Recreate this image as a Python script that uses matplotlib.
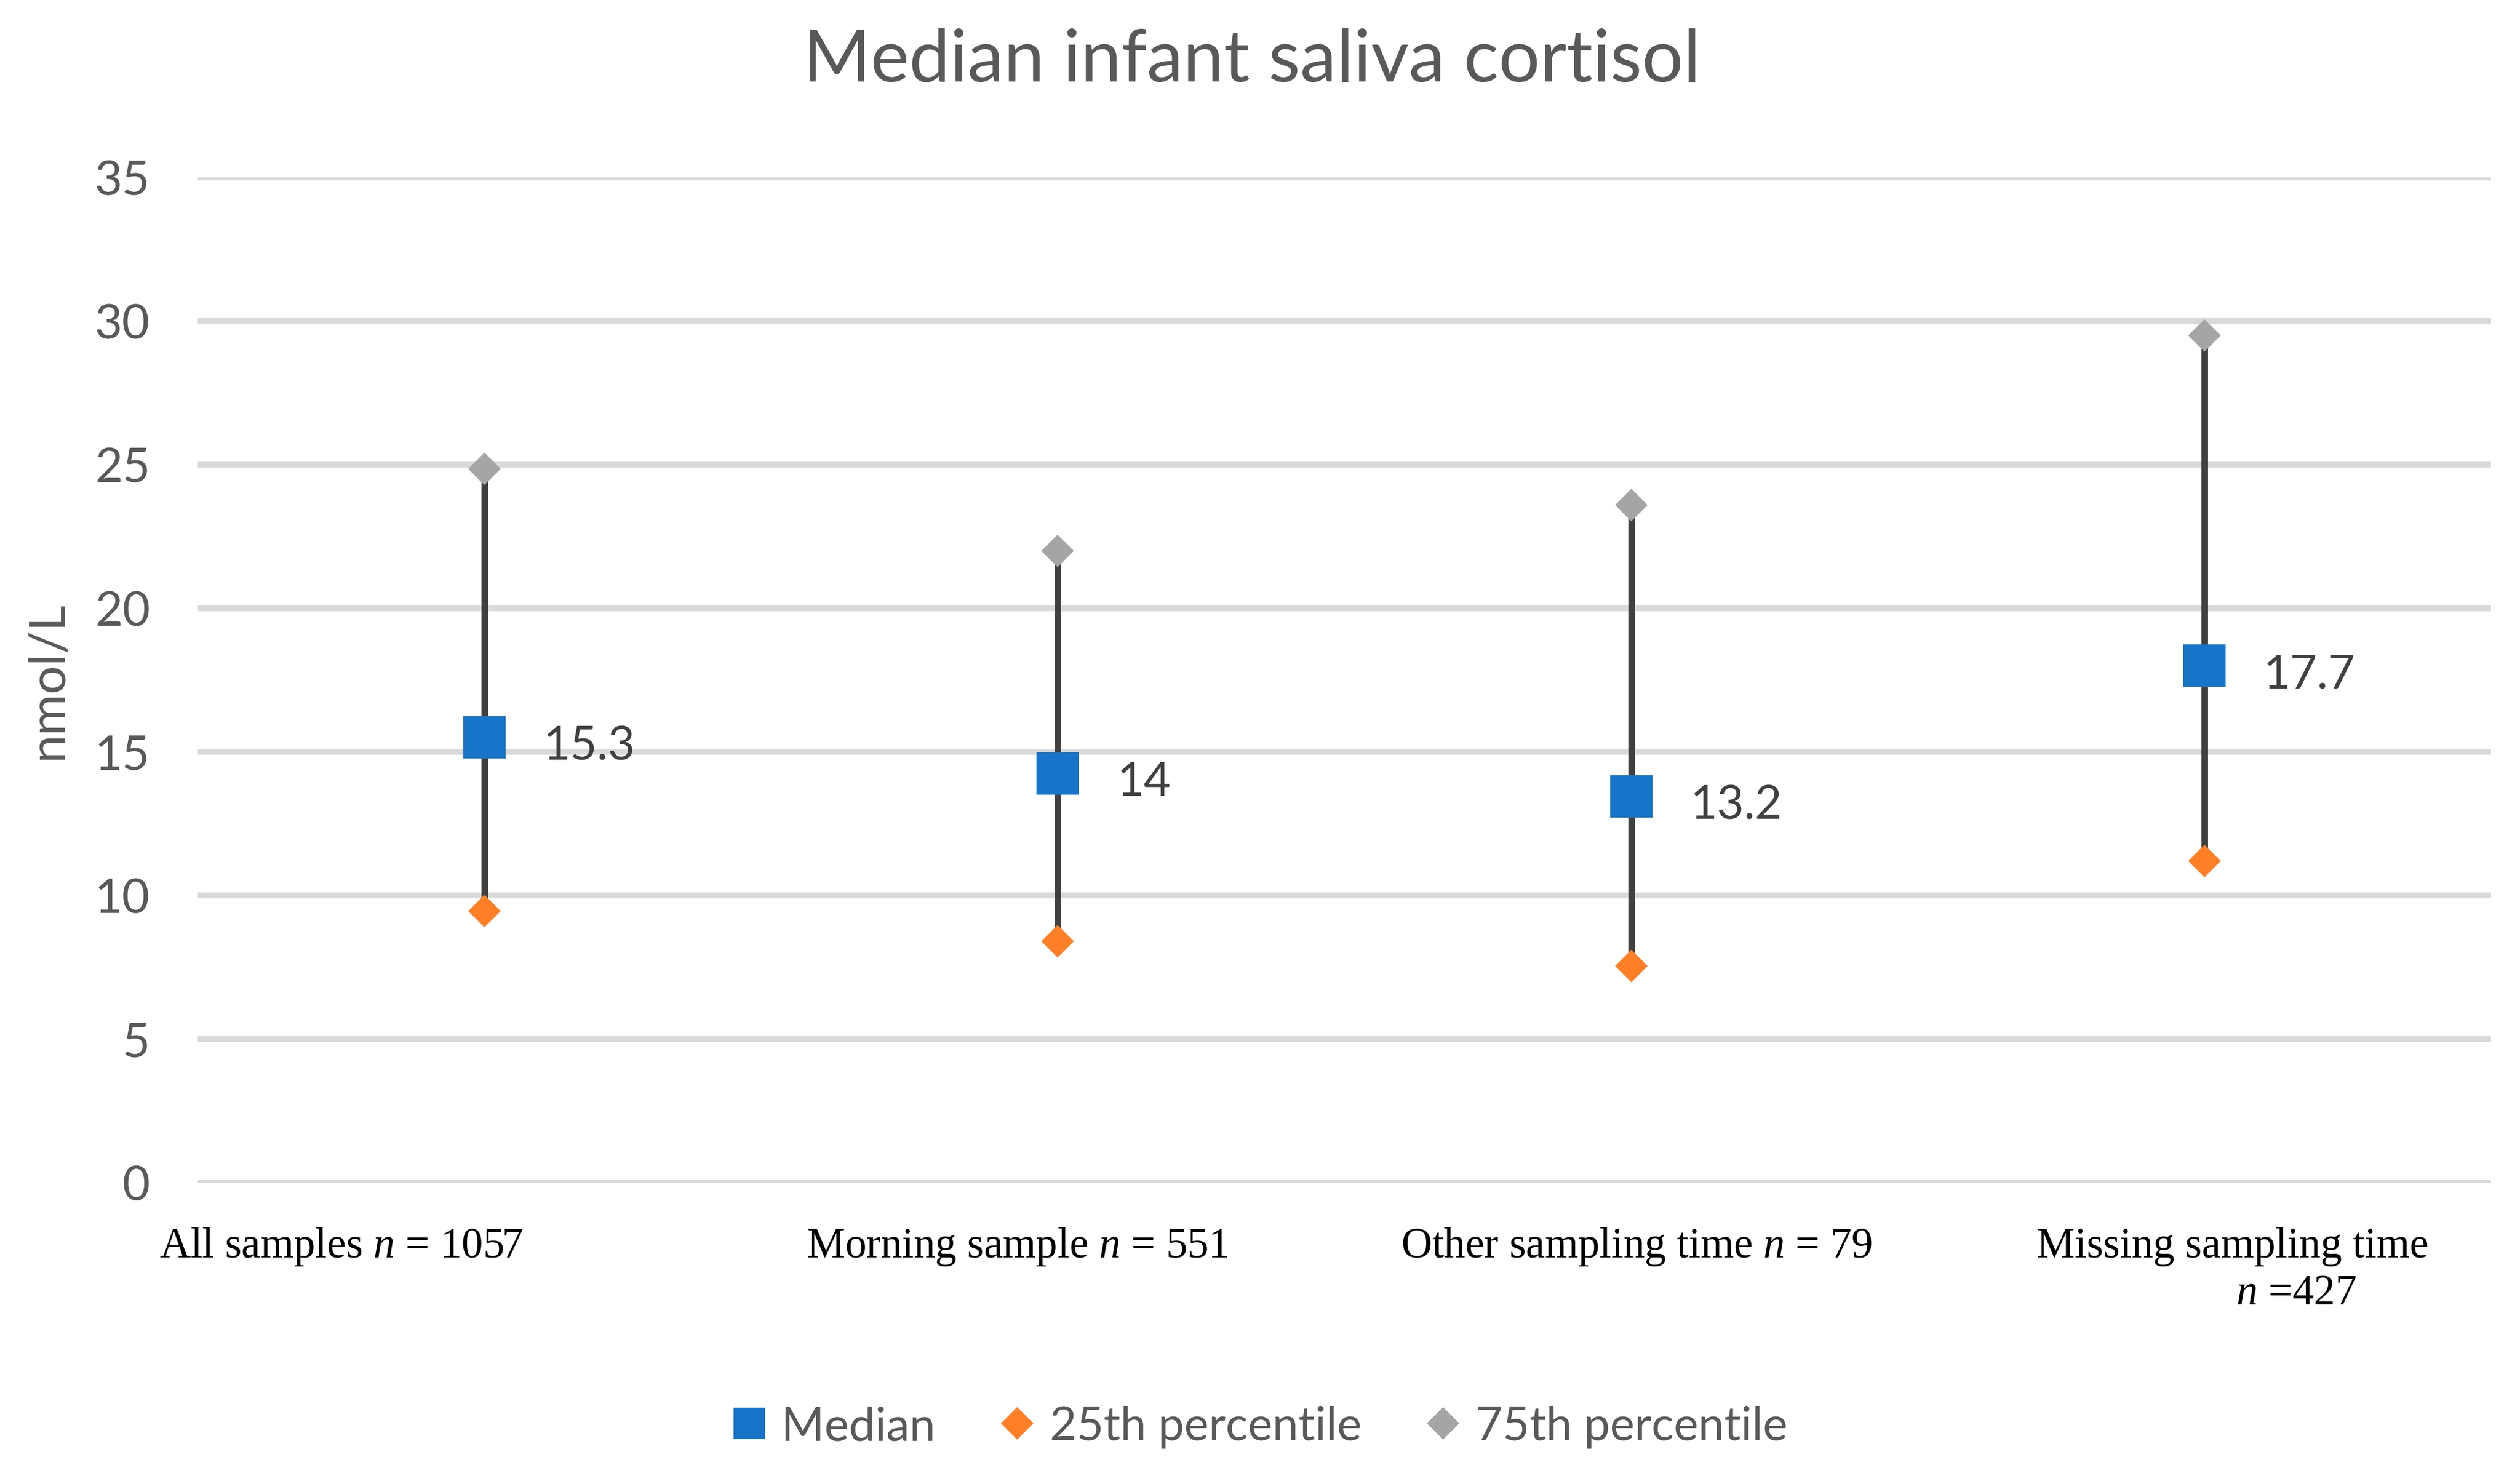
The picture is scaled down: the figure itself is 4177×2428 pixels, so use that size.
import matplotlib
matplotlib.use("Agg")
import matplotlib.pyplot as plt
from matplotlib.lines import Line2D
import numpy as np

# values
groups = ["All samples", "Morning sample", "Other sampling time", "Missing sampling time"]
median = [15.5, 14.25, 13.45, 18.0]
p25 = [9.45, 8.4, 7.55, 11.2]
p75 = [24.85, 22.0, 23.6, 29.5]
median_labels = ["15.3", "14", "13.2", "17.7"]

cat_labels = ["All samples $n$ = 1057", "Morning sample $n$ = 551",
              "Other sampling time $n$ = 79", "Missing sampling time"]
cat_label_shift = [-0.25, -0.07, 0.01, 0.05]
extra_label = "$n$ =427"
extra_label_shift = 0.16

yticks = [0, 5, 10, 15, 20, 25, 30, 35]

plt.rcParams['font.family'] = ['Lato', 'DejaVu Sans']
plt.rcParams['mathtext.fontset'] = 'custom'
plt.rcParams['mathtext.rm'] = 'Liberation Serif'
plt.rcParams['mathtext.it'] = 'Liberation Serif:italic'

grey_txt = "#595959"
dark = "#404040"
c_med = "#1874C8"
c_25 = "#FF7F27"
c_75 = "#A5A5A5"

fig = plt.figure(figsize=(4177 / 300, 2429 / 300), dpi=300)
ax = fig.add_axes([0.0785, 0.1927, 0.91, 0.6859])

x = np.arange(len(groups))

ax.vlines(x, p25, p75, color=dark, linewidth=2.6, zorder=2)
ax.plot(x, median, linestyle="none", marker="s", markersize=16, color=c_med, zorder=3)
ax.plot(x, p25, linestyle="none", marker="D", markersize=8.1, color=c_25, zorder=3)
ax.plot(x, p75, linestyle="none", marker="D", markersize=8.1, color=c_75, zorder=3)

for xi, m, lab in zip(x, median, median_labels):
    ax.annotate(lab, (xi, m), xytext=(23.5, -3.6), textcoords="offset points",
                ha="left", va="center", fontsize=18.5, color=dark)

ax.set_xlim(-0.5, 3.5)
ax.set_ylim(0, 35)
ax.set_yticks(yticks)
ax.set_xticks([])
ax.yaxis.grid(True, color="#D9D9D9", linewidth=2.3)
ax.set_axisbelow(True)
for s in ax.spines.values():
    s.set_visible(False)
ax.tick_params(axis="y", length=0, pad=19, labelsize=19, labelcolor=grey_txt)

# category labels, placed by hand like in the original
trans = ax.get_xaxis_transform()
for xi, lab, sh in zip(x, cat_labels, cat_label_shift):
    ax.text(xi + sh, -0.0738, lab, transform=trans, ha="center", va="baseline",
            family="Liberation Serif", fontsize=17, color="black")
ax.text(x[3] + extra_label_shift, -0.1206, extra_label, transform=trans,
        ha="center", va="baseline", family="Liberation Serif", fontsize=17,
        color="black")

ax.set_ylabel("nmol/L", fontsize=20, color=grey_txt)
ax.yaxis.label.set_va("center")
ax.yaxis.set_label_coords(-0.0652, 0.5)

fig.suptitle("Median infant saliva cortisol", x=0.4968, y=0.9444, va="baseline",
             fontsize=29, color=grey_txt)

handles = [
    Line2D([], [], linestyle="none", marker="s", markersize=11.3, color=c_med, label="Median"),
    Line2D([], [], linestyle="none", marker="D", markersize=8.1, color=c_25, label="25th percentile"),
    Line2D([], [], linestyle="none", marker="D", markersize=8.1, color=c_75, label="75th percentile"),
]
fig.legend(handles=handles, loc="center", bbox_to_anchor=(0.5, 0.026),
           ncol=3, frameon=False, fontsize=18.5, labelcolor=grey_txt,
           handlelength=0.7, handletextpad=0.35, columnspacing=1.4)

fig.savefig("out.png", dpi=300)
